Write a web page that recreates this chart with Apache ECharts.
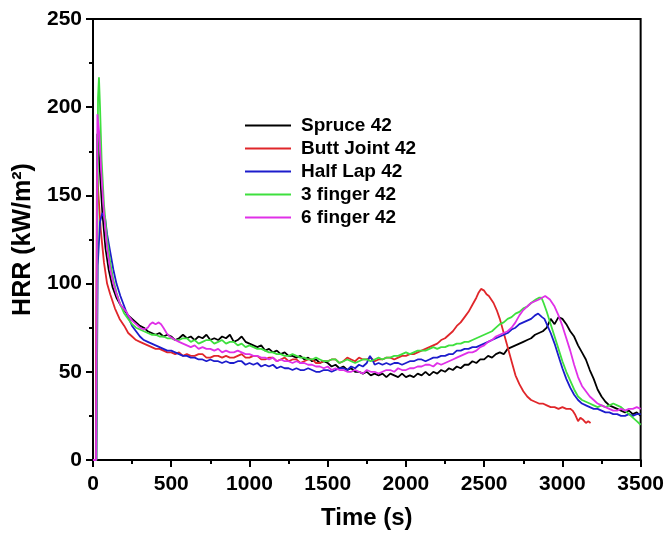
<!DOCTYPE html>
<html>
<head>
<meta charset="utf-8">
<script src="https://cdn.jsdelivr.net/npm/echarts@6/dist/echarts.min.js"></script>
<style>html,body{margin:0;padding:0;background:#fff}#c{width:667px;height:535px}</style>
</head>
<body>
<div id="c"></div>
<script>
var seriesNames = ['Spruce 42', 'Butt Joint 42', 'Half Lap 42', '3 finger 42', '6 finger 42'];
var seriesColors = ['#000000', '#e0262a', '#1c1ccc', '#3ee03e', '#e030e8'];
var xTicks = [0, 500, 1000, 1500, 2000, 2500, 3000, 3500];
var yTicks = [0, 50, 100, 150, 200, 250];

var spruce = [[0,0],[20,0],[28,185],[40,170],[60,140],[80,120],[100,108],[125,98],[150,92],[175,88],
[200,85],[225,82],[250,80],[275,78],[300,76],[325,75],[350,73],[375,72],[400,71],[425,72],[450,70],[475,71],[500,70],[525,68],[550,69],[575,71],[600,69],[625,70],[650,68],[675,70],[700,69],[725,71],[750,68],[775,69],[800,68],[825,70],[850,69],[875,71],[900,67],[925,68],[950,70],[975,67],[1000,66],[1025,65],[1050,64],[1075,65],[1100,62],[1125,63],[1150,61],[1175,62],[1200,60],[1225,61],[1250,59],[1275,59],[1300,58],[1325,59],[1350,57],[1375,58],[1400,56],[1425,57],[1450,55],[1475,56],[1500,55],[1525,53],[1550,54],[1575,52],[1600,53],[1625,51],[1650,52],[1675,50],[1700,50],[1725,49],[1750,50],[1775,48],[1800,49],[1825,48],[1850,49],[1875,47],[1900,49],[1925,48],[1950,47],[1975,49],[2000,47],[2025,48],[2050,47],[2075,49],[2100,48],[2125,50],[2150,48],[2175,50],[2200,49],[2225,51],[2250,50],[2275,52],[2300,51],[2325,53],[2350,52],[2375,54],[2400,54],[2425,56],[2450,55],[2475,57],[2500,57],[2525,59],[2550,58],[2575,60],[2600,61],[2625,60],[2650,63],[2675,64],[2700,65],[2725,66],[2750,67],[2775,68],[2800,69],[2825,71],[2850,72],[2875,73],[2900,75],[2925,80],[2950,77],[2975,81],[3000,80],[3025,77],[3050,73],[3075,70],[3100,65],[3125,61],[3150,57],[3175,51],[3200,46],[3225,40],[3250,36],[3275,33],[3300,31],[3325,30],[3350,29],[3375,28],[3400,27],[3425,28],[3450,26],[3475,27],[3500,25]];
var buttJoint = [[0,0],[18,0],[25,165],[35,150],[50,130],[70,112],[90,100],[110,94],[140,86],[170,80],
[200,76],[225,72],[250,70],[275,68],[300,67],[325,66],[350,65],[375,64],[400,63],[425,63],[450,62],[475,61],[500,61],[525,60],[550,61],[575,59],[600,60],[625,59],[650,59],[675,60],[700,60],[725,58],[750,58],[775,59],[800,59],[825,58],[850,59],[875,58],[900,58],[925,59],[950,60],[975,58],[1000,58],[1025,59],[1050,59],[1075,57],[1100,57],[1125,58],[1150,58],[1175,56],[1200,57],[1225,58],[1250,56],[1275,57],[1300,57],[1325,55],[1350,56],[1375,57],[1400,57],[1425,55],[1450,55],[1475,56],[1500,56],[1525,57],[1550,57],[1575,55],[1600,56],[1625,58],[1650,57],[1675,56],[1700,58],[1725,57],[1750,57],[1775,58],[1800,56],[1825,57],[1850,57],[1875,58],[1900,58],[1925,57],[1950,58],[1975,59],[2000,59],[2025,60],[2050,60],[2075,61],[2100,62],[2125,63],[2150,64],[2175,65],[2200,66],[2225,68],[2250,69],[2275,71],[2300,73],[2325,76],[2350,78],[2375,81],[2400,84],[2425,88],[2450,92],[2465,95],[2480,97],[2500,96],[2515,94],[2530,93],[2545,91],[2560,89],[2580,85],[2600,80],[2625,72],[2650,64],[2675,56],[2700,48],[2725,43],[2750,39],[2775,36],[2800,34],[2825,33],[2850,32],[2875,32],[2900,31],[2925,30],[2950,30],[2975,29],[3000,30],[3025,29],[3050,29],[3065,28],[3080,26],[3100,22],[3115,24],[3130,23],[3150,21],[3165,22],[3180,21]];
var halfLap = [[0,0],[22,0],[30,110],[45,135],[60,140],[76,138],[90,128],[110,118],[130,108],[150,100],[175,93],
[200,87],[225,81],[250,76],[275,73],[300,70],[325,68],[350,67],[375,66],[400,65],[425,64],[450,63],[475,62],[500,62],[525,61],[550,60],[575,59],[600,59],[625,58],[650,58],[675,57],[700,57],[725,56],[750,57],[775,56],[800,56],[825,55],[850,56],[875,55],[900,55],[925,56],[950,56],[975,54],[1000,55],[1025,54],[1050,55],[1075,53],[1100,54],[1125,53],[1150,54],[1175,52],[1200,53],[1225,52],[1250,52],[1275,51],[1300,52],[1325,51],[1350,51],[1375,52],[1400,51],[1425,50],[1450,50],[1475,51],[1500,51],[1525,50],[1550,51],[1575,52],[1600,52],[1625,51],[1650,53],[1675,52],[1700,54],[1725,53],[1750,55],[1770,59],[1780,60],[1790,56],[1800,54],[1825,55],[1850,54],[1875,55],[1900,54],[1925,55],[1950,55],[1975,54],[2000,55],[2025,56],[2050,56],[2075,57],[2100,57],[2125,56],[2150,57],[2175,58],[2200,58],[2225,59],[2250,59],[2275,60],[2300,60],[2325,62],[2350,62],[2375,63],[2400,63],[2425,64],[2450,64],[2475,65],[2500,66],[2525,67],[2550,68],[2575,69],[2600,70],[2625,71],[2650,72],[2675,74],[2700,75],[2725,77],[2750,78],[2775,79],[2800,80],[2825,82],[2845,83],[2870,81],[2885,80],[2900,77],[2925,72],[2950,66],[2975,59],[3000,52],[3025,46],[3050,41],[3075,37],[3100,34],[3125,32],[3150,31],[3175,30],[3200,29],[3225,29],[3250,28],[3275,27],[3300,27],[3325,26],[3350,26],[3375,25],[3400,25],[3425,26],[3450,25],[3475,26],[3500,26]];
var finger3 = [[0,0],[22,0],[32,205],[38,217],[45,200],[55,170],[70,145],[90,125],[110,112],[130,102],[150,95],[175,88],
[200,83],[225,80],[250,77],[275,75],[300,74],[325,73],[350,72],[375,71],[400,71],[425,70],[450,70],[475,69],[500,69],[525,68],[550,68],[575,69],[600,69],[625,67],[650,68],[675,66],[700,67],[725,68],[750,68],[775,66],[800,67],[825,68],[850,66],[875,67],[900,67],[925,65],[950,66],[975,64],[1000,65],[1025,64],[1050,63],[1075,63],[1100,62],[1125,61],[1150,61],[1175,60],[1200,60],[1225,59],[1250,59],[1275,60],[1300,59],[1325,58],[1350,58],[1375,57],[1400,57],[1425,58],[1450,57],[1475,56],[1500,56],[1525,57],[1550,57],[1575,55],[1600,56],[1625,57],[1650,56],[1675,55],[1700,56],[1725,57],[1750,57],[1775,56],[1800,57],[1825,58],[1850,57],[1875,58],[1900,58],[1925,59],[1950,59],[1975,60],[2000,61],[2025,60],[2050,61],[2075,62],[2100,62],[2125,62],[2150,63],[2175,64],[2200,63],[2225,64],[2250,64],[2275,65],[2300,65],[2325,66],[2350,66],[2375,67],[2400,67],[2425,68],[2450,69],[2475,70],[2500,71],[2525,72],[2550,73],[2575,75],[2600,77],[2625,78],[2650,80],[2675,81],[2700,83],[2725,84],[2750,86],[2775,87],[2800,89],[2815,90],[2830,91],[2850,92],[2866,92],[2880,89],[2900,84],[2925,77],[2950,70],[2975,63],[3000,56],[3025,50],[3050,45],[3075,40],[3100,36],[3125,34],[3150,33],[3175,32],[3200,31],[3225,30],[3250,31],[3275,30],[3300,31],[3325,32],[3350,31],[3375,30],[3400,28],[3425,26],[3450,24],[3475,22],[3500,20]];
var finger6 = [[0,0],[20,0],[28,196],[40,185],[55,160],[70,140],[90,120],[110,108],[130,100],[150,94],[175,88],
[214,84],[225,82],[250,79],[275,77],[300,75],[325,74],[350,75],[365,77],[380,78],[400,77],[420,78],[435,77],[450,75],[470,72],[490,70],[525,68],[550,67],[575,66],[600,65],[625,64],[650,65],[675,63],[700,64],[725,63],[750,63],[775,62],[800,63],[825,61],[850,62],[875,61],[900,61],[925,62],[950,61],[975,60],[1000,60],[1025,59],[1050,59],[1075,58],[1100,58],[1125,57],[1150,58],[1175,56],[1200,57],[1225,56],[1250,56],[1275,55],[1300,56],[1325,55],[1350,55],[1375,54],[1400,54],[1425,53],[1450,53],[1475,52],[1500,53],[1525,51],[1550,52],[1575,51],[1600,51],[1625,50],[1650,50],[1675,51],[1700,50],[1725,49],[1750,51],[1775,50],[1800,50],[1825,49],[1850,50],[1875,51],[1900,51],[1925,50],[1950,52],[1975,51],[2000,51],[2025,52],[2050,52],[2075,53],[2100,53],[2125,54],[2150,54],[2175,53],[2200,55],[2225,54],[2250,55],[2275,56],[2300,57],[2325,58],[2350,59],[2375,60],[2400,61],[2425,61],[2450,62],[2475,64],[2500,65],[2525,67],[2550,68],[2575,70],[2600,71],[2625,72],[2650,73],[2675,75],[2700,78],[2725,82],[2750,85],[2775,87],[2800,89],[2825,90],[2850,91],[2870,92],[2890,93],[2905,92],[2920,91],[2935,89],[2950,87],[2975,82],[3000,76],[3025,69],[3050,62],[3075,54],[3100,47],[3125,42],[3150,39],[3175,36],[3200,34],[3225,32],[3250,31],[3275,30],[3300,29],[3325,28],[3350,28],[3375,29],[3400,28],[3425,29],[3450,29],[3475,30],[3500,29]];

var allData = [spruce, buttJoint, halfLap, finger3, finger6];
var font = 'Liberation Sans, Arial, sans-serif';
function plain(v) { return String(v); }

var chart = echarts.init(document.getElementById('c'), null, {renderer: 'canvas'});
chart.setOption({
  animation: false,
  backgroundColor: '#fff',
  grid: {left: 93, right: 24, top: 19, bottom: 73, show: true, borderColor: '#000', borderWidth: 2, backgroundColor: 'transparent'},
  legend: {
    orient: 'vertical', left: 240, top: 110, itemGap: 2, itemWidth: 46, itemHeight: 2, icon: 'rect',
    data: seriesNames,
    textStyle: {fontFamily: font, fontWeight: 'bold', fontSize: 19, lineHeight: 21, color: '#000', padding: [0,0,0,5]}
  },
  xAxis: {
    type: 'value', min: xTicks[0], max: xTicks[xTicks.length-1], interval: 500,
    name: 'Time (s)', nameLocation: 'middle', nameGap: 46,
    nameTextStyle: {fontFamily: font, fontWeight: 'bold', fontSize: 24, color: '#000'},
    axisLine: {show: true, onZero: false, lineStyle: {color: '#000', width: 2}},
    axisTick: {show: true, inside: false, length: 7, lineStyle: {color: '#000', width: 2}},
    minorTick: {show: true, splitNumber: 2, length: 4, lineStyle: {color: '#000', width: 2}},
    splitLine: {show: false},
    axisLabel: {fontFamily: font, fontWeight: 'bold', fontSize: 21, color: '#000', margin: 14, formatter: plain}
  },
  yAxis: {
    type: 'value', min: yTicks[0], max: yTicks[yTicks.length-1], interval: 50,
    name: 'HRR (kW/m²)', nameLocation: 'middle', nameGap: 53,
    nameTextStyle: {fontFamily: font, fontWeight: 'bold', fontSize: 25, color: '#000'},
    axisLine: {show: true, onZero: false, lineStyle: {color: '#000', width: 2}},
    axisTick: {show: true, inside: false, length: 7, lineStyle: {color: '#000', width: 2}},
    minorTick: {show: true, splitNumber: 2, length: 4, lineStyle: {color: '#000', width: 2}},
    splitLine: {show: false},
    axisLabel: {fontFamily: font, fontWeight: 'bold', fontSize: 21, color: '#000', margin: 11, formatter: plain}
  },
  series: seriesNames.map(function (n, i) {
    return {
      name: n, type: 'line', data: allData[i], showSymbol: false, symbol: 'none',
      lineStyle: {color: seriesColors[i], width: 1.8}, itemStyle: {color: seriesColors[i]},
      clip: true, z: 2 + i
    };
  })
});
</script>
</body>
</html>
